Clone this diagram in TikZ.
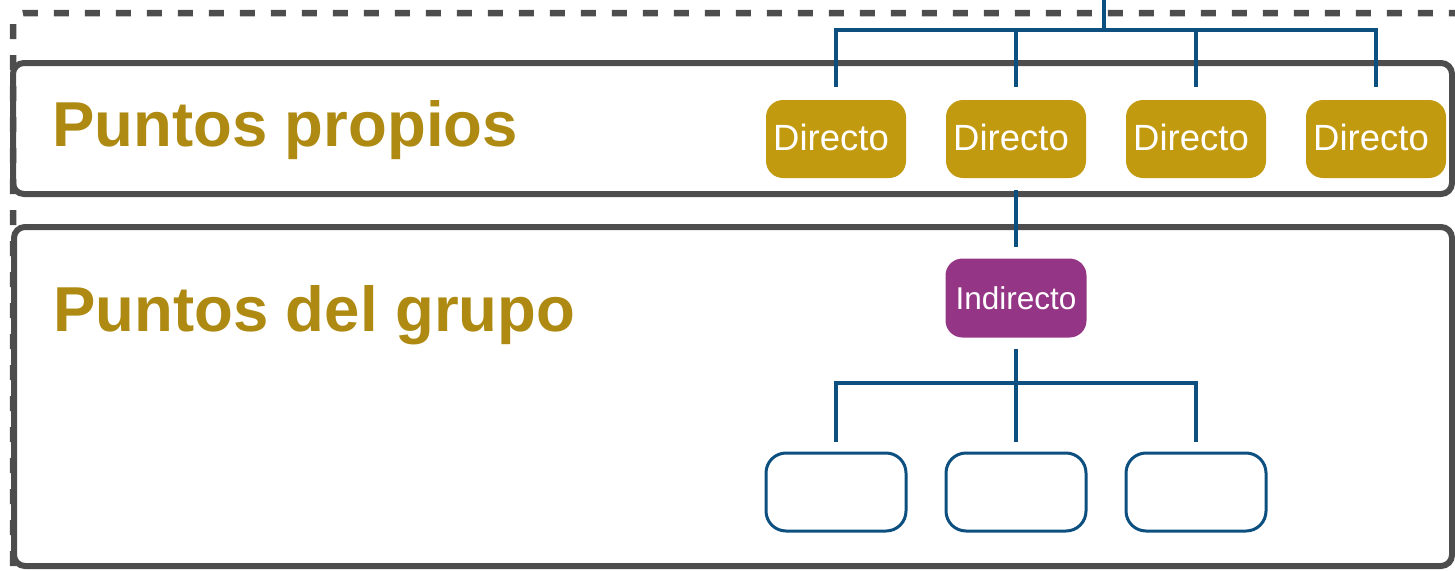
\documentclass[tikz,border=0pt]{standalone}
\usepackage{fontspec}
\setmainfont{Liberation Sans}
\usepackage{xcolor}
\usetikzlibrary{positioning, calc}

\definecolor{frameGray}{HTML}{4D4D4D}
\definecolor{titleGold}{HTML}{AE8A12}
\definecolor{directGold}{HTML}{C29A10}
\definecolor{indirectPurple}{HTML}{943585}
\definecolor{lineBlue}{HTML}{0D4F7F}

\begin{document}
\begin{tikzpicture}[
    x=1pt, y=1pt,
    frame/.style={draw=frameGray, line width=6pt, rounded corners=11pt},
    title/.style={anchor=base west, inner sep=0pt, text=titleGold, font=\fontsize{63.5}{70}\selectfont\bfseries},
    direct/.style={fill=directGold, rounded corners=17pt, minimum width=140pt, minimum height=78pt, inner sep=0pt, text=white, font=\fontsize{36.5}{40}\selectfont},
    indirect/.style={fill=indirectPurple, rounded corners=17pt, minimum width=141pt, minimum height=79pt, inner sep=0pt, text=white, font=\fontsize{31.5}{36}\selectfont},
    empty/.style={draw=lineBlue, line width=3pt, rounded corners=20pt, minimum width=140pt, minimum height=78pt, inner sep=0pt},
    conn/.style={draw=lineBlue, line width=4pt}
]
    \useasboundingbox (0,0) rectangle (1455,-570);
    \clip (0,0) rectangle (1455,-570);

    % Frames
    \draw[draw=frameGray, line width=6.5pt, dash pattern=on 15pt off 16pt, rounded corners=11pt]
        (13,-566) -- (13,-13) -- (1480,-13);
    \draw[frame] (13,-63) rectangle (1452,-194);
    \draw[frame] (14,-227) rectangle (1452,-566);

    % Titles
    \node[title] (own) at (52,-146) {Puntos propios};
    \node[title] (group) at (53,-331) {Puntos del grupo};

    % Nodes
    \node[direct] (d1) at (836,-139) {\raisebox{3pt}{Directo}\kern10pt};
    \node[direct] (d2) at (1016,-139) {\raisebox{3pt}{Directo}\kern10pt};
    \node[direct] (d3) at (1196,-139) {\raisebox{3pt}{Directo}\kern10pt};
    \node[direct] (d4) at (1376,-139) {\raisebox{3pt}{Directo}\kern10pt};
    \node[indirect] (ind) at (1016,-298) {Indirecto};
    \node[empty] (e1) at (836,-492) {};
    \node[empty] (e2) at (1016,-492) {};
    \node[empty] (e3) at (1196,-492) {};
    \coordinate (root) at (1104,0);

    % Connections
    \draw[conn] ([yshift=13pt]d1.north) |- ($(root)+(0,-30)$) -| ([yshift=13pt]d4.north);
    \draw[conn] (root) -- ++(0,-30);
    \draw[conn] ([yshift=13pt]d2.north) -- ++(0,57);
    \draw[conn] ([yshift=13pt]d3.north) -- ++(0,57);
    \draw[conn] ([yshift=-12pt]d2.south) -- ([yshift=11pt]ind.north);
    \draw[conn] ([yshift=10pt]e1.north) |- ($(ind.south)+(0,-45)$) -| ([yshift=10pt]e3.north);
    \draw[conn] ([yshift=-11pt]ind.south) -- ([yshift=10pt]e2.north);
\end{tikzpicture}
\end{document}
